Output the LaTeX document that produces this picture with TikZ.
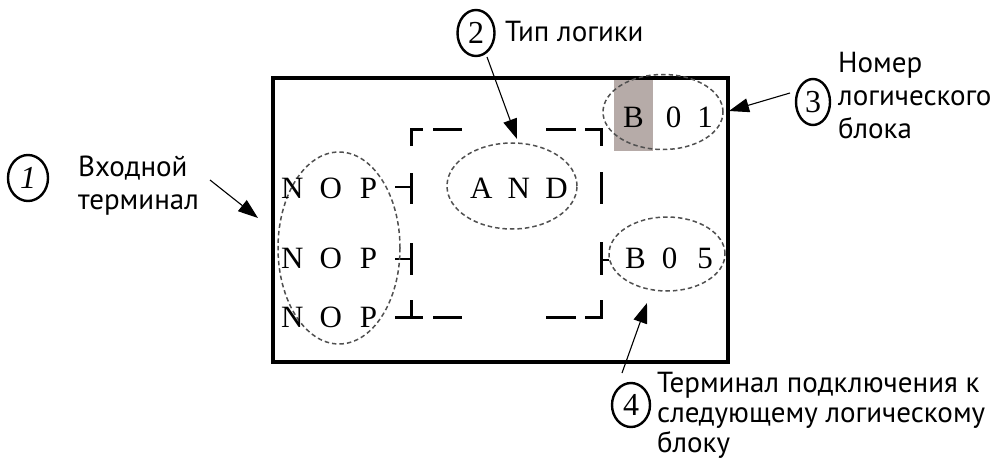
\documentclass[tikz,border=0pt]{standalone}
\usepackage{fontspec}
\setmainfont{Liberation Serif}
\newfontfamily\labfont{PT Sans}
\usetikzlibrary{arrows.meta,shapes.geometric}
\definecolor{bshade}{RGB}{182,171,168}
\definecolor{dashgray}{RGB}{80,80,80}
\begin{document}
\begin{tikzpicture}[x=1pt,y=-1pt,
  frame/.style={line width=3.4pt},
  blockline/.style={line width=3pt},
  pin/.style={line width=2.6pt},
  dell/.style={ellipse,draw=dashgray,dash pattern=on 4.5pt off 3pt,line width=1.5pt,inner sep=0pt},
  mono/.style={font=\fontsize{31}{31}\selectfont,inner sep=0pt,anchor=base west},
  lab/.style={font=\labfont\fontsize{29}{33}\selectfont,inner sep=0pt,align=left},
  num/.style={ellipse,draw,line width=2.4pt,inner sep=0pt,font=\fontsize{32}{32}\selectfont},
  arr/.style={line width=1.1pt,-{Triangle[length=20pt,width=14pt]}}]
\useasboundingbox (0,0) rectangle (998,468);
% main frame
\fill[bshade] (614,79) rectangle (653,151);
\draw[frame] (273,78) rectangle (728,362);
% dashed block
\draw[blockline] (411,146) -- (411,130) -- (423,130);
\draw[blockline] (433,130) -- (462,130);
\draw[blockline] (546,130) -- (576,130);
\draw[blockline] (585,130) -- (601,130) -- (601,146);
\draw[blockline] (411,173) -- (411,204);
\draw[blockline] (411,243) -- (411,275);
\draw[blockline] (411,300) -- (411,317);
\draw[blockline] (395,317) -- (423,317);
\draw[blockline] (433,317) -- (462,317);
\draw[blockline] (546,317) -- (576,317);
\draw[blockline] (585,317) -- (601,317) -- (601,300);
\draw[blockline] (601,172) -- (601,204);
\draw[blockline] (601,242) -- (601,275);
\draw[pin] (395,187) -- (411,187);
\draw[pin] (395,259) -- (411,259);
\draw[pin] (601,260) -- (609,260);
% dashed ellipses
\node[dell,minimum width=122pt,minimum height=192pt] (nopell) at (339,248) {};
\node[dell,minimum width=130pt,minimum height=86pt] (andell) at (512,186) {};
\node[dell,minimum width=120pt,minimum height=75pt] (b01ell) at (663,112) {};
\node[dell,minimum width=116pt,minimum height=74pt] (b05ell) at (667,254) {};
% texts in the block
\node[mono] (nop1) at (281,198) {N\hspace{16pt}O\hspace{18pt}P};
\node[mono] (nop2) at (281,268) {N\hspace{16pt}O\hspace{18pt}P};
\node[mono] (nop3) at (281,327) {N\hspace{16pt}O\hspace{18pt}P};
\node[mono] (andt) at (470,198) {A\hspace{15pt}N\hspace{15.5pt}D};
\node[mono] (b01) at (623,128) {B\hspace{22pt}0\hspace{16pt}1};
\node[mono] (b05) at (625,268) {B\hspace{16pt}0\hspace{20pt}5};
% callout numbers
\node[num,minimum width=40pt,minimum height=46pt] (c1) at (28,178) {\itshape 1};
\node[num,minimum width=37pt,minimum height=46pt] (c2) at (476,33) {2};
\node[num,minimum width=34pt,minimum height=46pt] (c3) at (813,102) {3};
\node[num,minimum width=38pt,minimum height=44pt] (c4) at (631,405) {4};
% labels
\node[lab,anchor=north west] (l1) at (78,156) {Входной\\терминал};
\node[lab,anchor=base west] (l2) at (505,42) {Тип логики};
\node[lab,anchor=north west] (l3) at (838,52) {Номер\\логического\\блока};
\node[lab,anchor=north west,font=\labfont\fontsize{29}{30}\selectfont] (l4) at (657,372) {Терминал подключения к\\следующему логическому\\блоку};
% arrows
\coordinate (a1s) at (210,180);
\coordinate (a1e) at (258,218);
\coordinate (a2s) at (487,57);
\coordinate (a2e) at (517,139);
\coordinate (a3s) at (790,93);
\coordinate (a3e) at (729,111);
\coordinate (a4s) at (622,373);
\coordinate (a4e) at (647,303);
\draw[arr] (a1s) -- (a1e);
\draw[arr] (a2s) -- (a2e);
\draw[arr] (a3s) -- (a3e);
\draw[arr] (a4s) -- (a4e);
\end{tikzpicture}
\end{document}
